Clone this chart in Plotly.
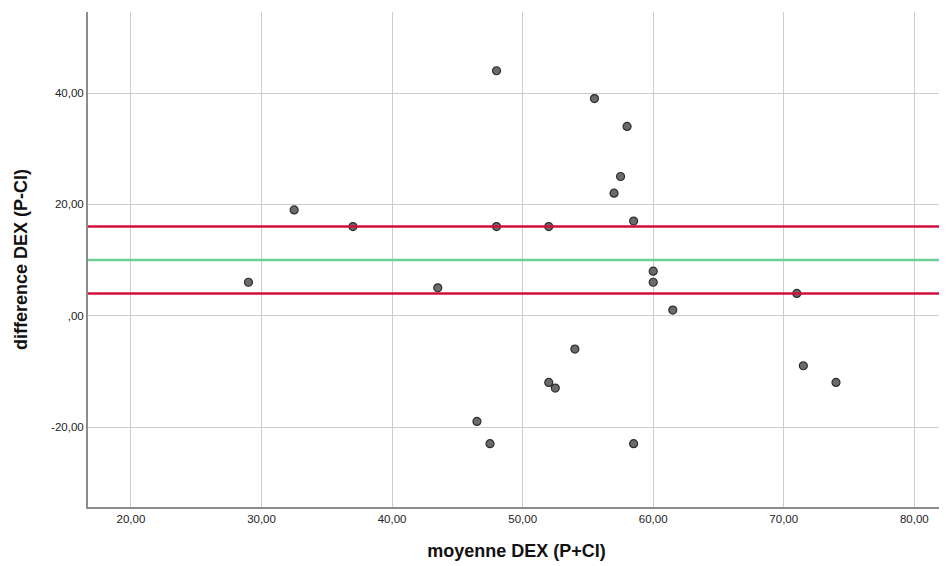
import plotly.graph_objects as go

mean_dex = [29, 32.5, 37, 43.5, 48, 48, 46.5, 47.5, 52, 52, 52.5, 54, 55.5, 58, 57.5, 57,
            58.5, 58.5, 60, 60, 61.5, 71, 71.5, 74]
diff_dex = [6, 19, 16, 5, 44, 16, -19, -23, 16, -12, -13, -6, 39, 34, 25, 22,
            17, -23, 8, 6, 1, 4, -9, -12]

upper_loa = 16
mean_diff = 10
lower_loa = 4

x_ticks = [20, 30, 40, 50, 60, 70, 80]
x_tick_labels = ["20,00", "30,00", "40,00", "50,00", "60,00", "70,00", "80,00"]
y_ticks = [-20, 0, 20, 40]
y_tick_labels = ["-20,00", ",00", "20,00", "40,00"]

x_range = [16.71, 82.35]
y_range = [-34.37, 54.55]

fig = go.Figure()
fig.add_trace(go.Scatter(
    x=mean_dex, y=diff_dex, mode="markers",
    marker=dict(size=8, color="#6b6b6b", line=dict(color="#2e2e2e", width=1.2)),
    showlegend=False, hoverinfo="x+y"))

for val, col in [(upper_loa, "#d10f3c"), (mean_diff, "#6fcf97"), (lower_loa, "#d10f3c")]:
    fig.add_trace(go.Scatter(x=x_range, y=[val, val], mode="lines",
                             line=dict(color=col, width=2.5), showlegend=False,
                             hoverinfo="skip"))

fig.update_layout(
    width=939, height=558,
    margin=dict(l=80, r=2, t=4, b=59),
    paper_bgcolor="white", plot_bgcolor="white",
    font=dict(family="Liberation Sans, Arial, sans-serif", color="#222"),
)
fig.update_xaxes(
    range=x_range, tickvals=x_ticks, ticktext=x_tick_labels,
    showgrid=True, gridcolor="#cccccc", gridwidth=1,
    showline=True, linecolor="#8c8c8c", linewidth=2, zeroline=False,
    ticks="", tickfont=dict(size=11.5, color="#222"),
    title=dict(text="<b>moyenne DEX (P+CI)</b>", font=dict(size=18, color="#111"), standoff=21),
)
fig.update_yaxes(
    range=y_range, tickvals=y_ticks, ticktext=y_tick_labels,
    showgrid=True, gridcolor="#cccccc", gridwidth=1,
    showline=True, linecolor="#8c8c8c", linewidth=2, zeroline=False,
    ticks="", tickfont=dict(size=11.5, color="#222"),
    title=dict(text="<b>difference DEX (P-CI)</b>", font=dict(size=18, color="#111"), standoff=19),
)

fig.write_html("out.html")
